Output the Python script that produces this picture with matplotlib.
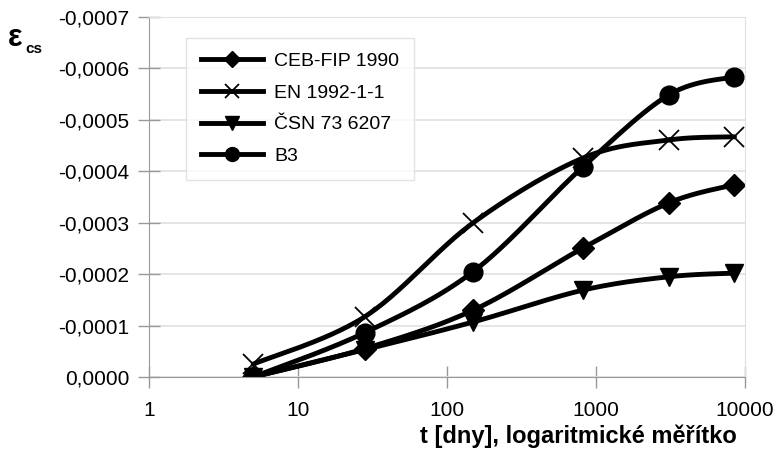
import numpy as np
import matplotlib
matplotlib.use('Agg')
from matplotlib import pyplot as plt
from matplotlib.ticker import FuncFormatter, FixedLocator, NullLocator

plt.rcParams['font.family'] = ['Liberation Sans', 'DejaVu Sans']

t = [5, 28, 150, 820, 3100, 8500]
ceb = [0.0, -0.55e-4, -1.30e-4, -2.51e-4, -3.39e-4, -3.74e-4]
en = [-0.25e-4, -1.17e-4, -3.00e-4, -4.26e-4, -4.61e-4, -4.67e-4]
csn = [0.0, -0.53e-4, -1.07e-4, -1.69e-4, -1.95e-4, -2.02e-4]
b3 = [0.0, -0.86e-4, -2.05e-4, -4.09e-4, -5.49e-4, -5.84e-4]
labels = ['CEB-FIP 1990', 'EN 1992-1-1', 'ČSN 73 6207', 'B3']
xticks = [1, 10, 100, 1000, 10000]


def smooth(x, y, n=30):
    # Excel-style smoothed line (Catmull-Rom) in log-x space
    lx = np.log10(x)
    y = np.asarray(y)
    px = np.concatenate([[lx[0]], lx, [lx[-1]]])
    py = np.concatenate([[y[0]], y, [y[-1]]])
    xs, ys = [], []
    s = np.linspace(0, 1, n)
    for i in range(1, len(px) - 2):
        for p, out in ((px, xs), (py, ys)):
            p0, p1, p2, p3 = p[i - 1], p[i], p[i + 1], p[i + 2]
            out.extend(0.5 * (2 * p1 + (-p0 + p2) * s
                              + (2 * p0 - 5 * p1 + 4 * p2 - p3) * s ** 2
                              + (-p0 + 3 * p1 - 3 * p2 + p3) * s ** 3))
    return 10 ** np.array(xs), np.array(ys)


fig = plt.figure(figsize=(7.75, 4.51), dpi=100)
ax = fig.add_axes([149 / 775, 1 - 377 / 451, 596 / 775, 360 / 451])

series = [ceb, en, csn, b3]
markers = [('D', 11, 1), ('x', 15, 1.3), ('v', 13, 1), ('o', 13.5, 1)]
legend_ms = [8, 10, 10, 10]
for ys, lab, (m, ms, mew), lms in zip(series, labels, markers, legend_ms):
    sx, sy = smooth(t, ys)
    ax.plot(sx, sy, color='black', lw=3.5, solid_capstyle='round')
    ax.plot(t, ys, linestyle='none', marker=m, ms=ms, mew=mew, color='black')
    ax.plot([], [], color='black', lw=3.5, marker=m, ms=lms, mew=mew, label=lab)

ax.set_xscale('log')
ax.set_xlim(1, 10000)
ax.set_ylim(0, -0.0007)
ax.xaxis.set_major_locator(FixedLocator(xticks))
ax.xaxis.set_minor_locator(NullLocator())
ax.xaxis.set_major_formatter(FuncFormatter(lambda v, p: '%d' % v))
ax.set_yticks(np.arange(0, -0.00071, -0.0001))
ax.yaxis.set_major_formatter(FuncFormatter(
    lambda v, p: ('%.4f' % v).replace('.', ',').replace('-0,0000', '0,0000')))

ax.grid(axis='y', color='#e0e0e0', lw=1.2)
ax.set_axisbelow(True)
for side in ['top', 'right']:
    ax.spines[side].set_color('#e0e0e0')
for side in ['left', 'bottom']:
    ax.spines[side].set_color('#999999')
ax.tick_params(axis='both', direction='inout', length=16, width=1,
               color='#999999', labelsize=15, pad=6)
ax.tick_params(axis='x', pad=9)

leg = ax.legend(loc='upper left', bbox_to_anchor=(37 / 596, 1 - 21 / 360),
                fontsize=14, frameon=True, fancybox=False, handlelength=3.2,
                handletextpad=0.6, labelspacing=0.72, borderpad=0.75,
                borderaxespad=0)
leg.get_frame().set_edgecolor('#dddddd')
leg.get_frame().set_linewidth(1)

fig.text(8 / 775, 1 - 46 / 451, 'ε', fontsize=22, fontweight='bold')
fig.text(25 / 775, 1 - 53 / 451, 'cs', fontsize=11, fontweight='bold')
fig.text(737 / 775, 1 - 443 / 451, 't [dny], logaritmické měřítko',
         fontsize=17, fontweight='bold', ha='right')

fig.savefig('out.png', dpi=100)
